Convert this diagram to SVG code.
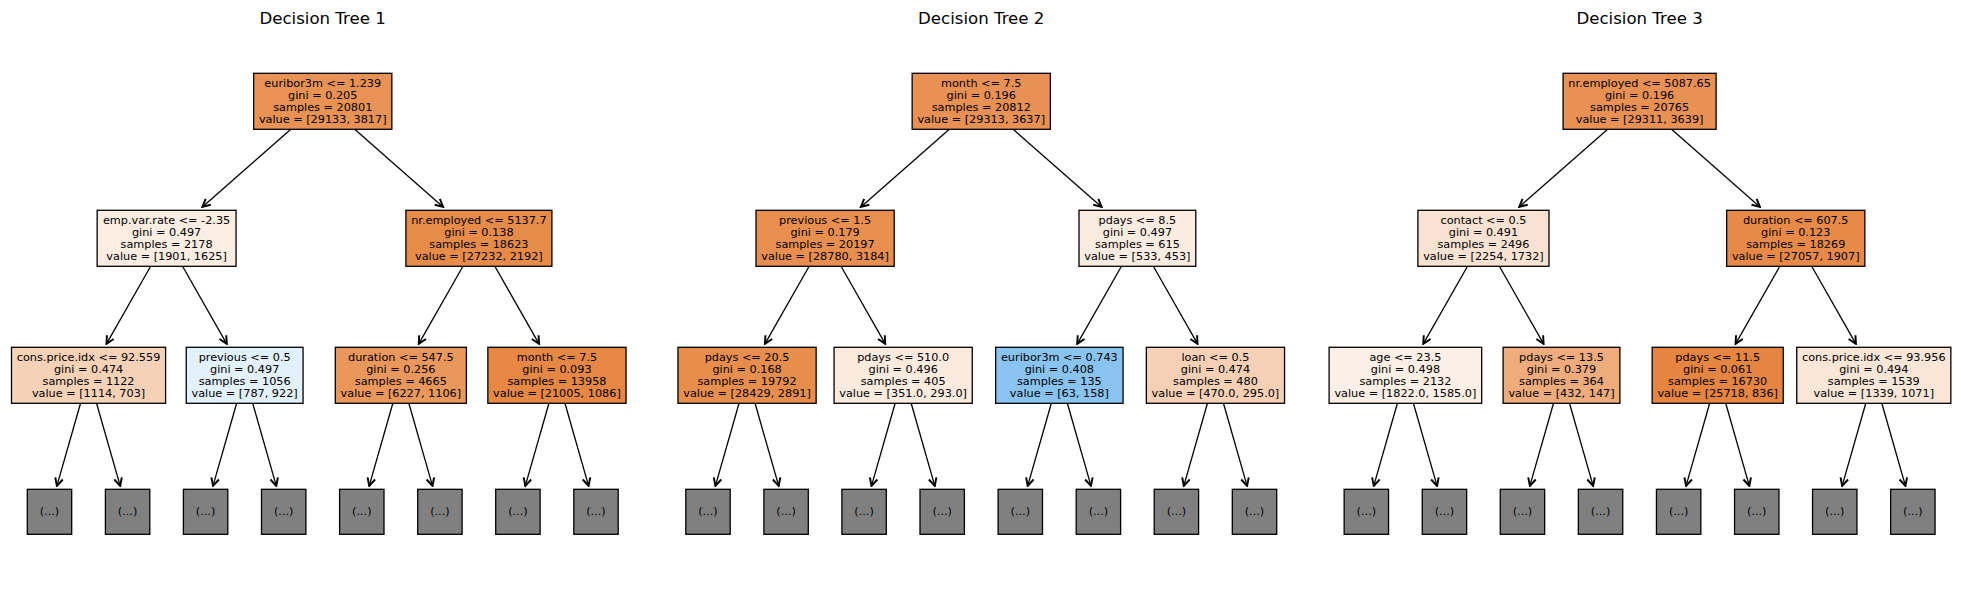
<svg xmlns="http://www.w3.org/2000/svg" width="1961" height="590" viewBox="0 0 1961 590">
<style>
.box{stroke:#000;stroke-width:1.3}
.leaf{fill:#808080;stroke:#000;stroke-width:1.3}
.lbl{font-family:"DejaVu Sans",Verdana,sans-serif;font-size:11.25px;text-anchor:middle;fill:#000}
.title{font-family:"DejaVu Sans",Verdana,sans-serif;font-size:16.6px;text-anchor:middle;fill:#000}
.edge{stroke:#000;stroke-width:1.3;fill:none;marker-end:url(#ah)}
</style>
<defs>
<marker id="ah" markerUnits="userSpaceOnUse" markerWidth="12" markerHeight="12" viewBox="-7 -4 8 8" refX="0" refY="0" orient="auto">
<path d="M-5.2,-2.6 L0,0 L-5.2,2.6" fill="none" stroke="#000" stroke-width="1.3"/>
</marker>
</defs>
<rect width="1961" height="590" fill="#fff"/>
<text class="title" x="322.6" y="23.8">Decision Tree 1</text>
<text class="title" x="981.2" y="23.8">Decision Tree 2</text>
<text class="title" x="1639.6" y="23.8">Decision Tree 3</text>
<g id="connectors">
<g id="edges-t1">
<path class="edge" d="M290.83,129.3 L202.39,206.9"/>
<path class="edge" d="M354.67,129.3 L443.11,206.9"/>
<path class="edge" d="M150.65,266.3 L106.44,343.9"/>
<path class="edge" d="M182.55,266.3 L226.76,343.9"/>
<path class="edge" d="M462.95,266.3 L418.74,343.9"/>
<path class="edge" d="M494.85,266.3 L539.06,343.9"/>
<path class="edge" d="M80.54,403.3 L56.91,485.9"/>
<path class="edge" d="M96.56,403.3 L120.19,485.9"/>
<path class="edge" d="M236.64,403.3 L213.01,485.9"/>
<path class="edge" d="M252.66,403.3 L276.29,485.9"/>
<path class="edge" d="M392.84,403.3 L369.21,485.9"/>
<path class="edge" d="M408.86,403.3 L432.49,485.9"/>
<path class="edge" d="M548.94,403.3 L525.31,485.9"/>
<path class="edge" d="M564.96,403.3 L588.59,485.9"/>
</g>
<g id="edges-t2" transform="translate(658.5,0)">
<path class="edge" d="M290.83,129.3 L202.39,206.9"/>
<path class="edge" d="M354.67,129.3 L443.11,206.9"/>
<path class="edge" d="M150.65,266.3 L106.44,343.9"/>
<path class="edge" d="M182.55,266.3 L226.76,343.9"/>
<path class="edge" d="M462.95,266.3 L418.74,343.9"/>
<path class="edge" d="M494.85,266.3 L539.06,343.9"/>
<path class="edge" d="M80.54,403.3 L56.91,485.9"/>
<path class="edge" d="M96.56,403.3 L120.19,485.9"/>
<path class="edge" d="M236.64,403.3 L213.01,485.9"/>
<path class="edge" d="M252.66,403.3 L276.29,485.9"/>
<path class="edge" d="M392.84,403.3 L369.21,485.9"/>
<path class="edge" d="M408.86,403.3 L432.49,485.9"/>
<path class="edge" d="M548.94,403.3 L525.31,485.9"/>
<path class="edge" d="M564.96,403.3 L588.59,485.9"/>
</g>
<g id="edges-t3" transform="translate(1316.85,0)">
<path class="edge" d="M290.83,129.3 L202.39,206.9"/>
<path class="edge" d="M354.67,129.3 L443.11,206.9"/>
<path class="edge" d="M150.65,266.3 L106.44,343.9"/>
<path class="edge" d="M182.55,266.3 L226.76,343.9"/>
<path class="edge" d="M462.95,266.3 L418.74,343.9"/>
<path class="edge" d="M494.85,266.3 L539.06,343.9"/>
<path class="edge" d="M80.54,403.3 L56.91,485.9"/>
<path class="edge" d="M96.56,403.3 L120.19,485.9"/>
<path class="edge" d="M236.64,403.3 L213.01,485.9"/>
<path class="edge" d="M252.66,403.3 L276.29,485.9"/>
<path class="edge" d="M392.84,403.3 L369.21,485.9"/>
<path class="edge" d="M408.86,403.3 L432.49,485.9"/>
<path class="edge" d="M548.94,403.3 L525.31,485.9"/>
<path class="edge" d="M564.96,403.3 L588.59,485.9"/>
</g>
</g>

<g id="tree1">
<g id="t1-root"><rect class="box" x="253.65" y="73.3" width="138.2" height="56" fill="#e89253"/><text class="lbl"><tspan x="322.75" y="86.7">euribor3m &lt;= 1.239</tspan><tspan x="322.75" y="98.7">gini = 0.205</tspan><tspan x="322.75" y="110.7">samples = 20801</tspan><tspan x="322.75" y="122.7">value = [29133, 3817]</tspan></text></g>
<g id="t1-n1"><rect class="box" x="97.15" y="210.3" width="138.9" height="56" fill="#fbede2"/><text class="lbl"><tspan x="166.6" y="223.7">emp.var.rate &lt;= -2.35</tspan><tspan x="166.6" y="235.7">gini = 0.497</tspan><tspan x="166.6" y="247.7">samples = 2178</tspan><tspan x="166.6" y="259.7">value = [1901, 1625]</tspan></text></g>
<g id="t1-n2"><rect class="box" x="405.9" y="210.3" width="146" height="56" fill="#e78b49"/><text class="lbl"><tspan x="478.9" y="223.7">nr.employed &lt;= 5137.7</tspan><tspan x="478.9" y="235.7">gini = 0.138</tspan><tspan x="478.9" y="247.7">samples = 18623</tspan><tspan x="478.9" y="259.7">value = [27232, 2192]</tspan></text></g>
<g id="t1-n3"><rect class="box" x="11.5" y="347.3" width="154.1" height="56" fill="#f5d1b6"/><text class="lbl"><tspan x="88.55" y="360.7">cons.price.idx &lt;= 92.559</tspan><tspan x="88.55" y="372.7">gini = 0.474</tspan><tspan x="88.55" y="384.7">samples = 1122</tspan><tspan x="88.55" y="396.7">value = [1114, 703]</tspan></text></g>
<g id="t1-n4"><rect class="box" x="186.25" y="347.3" width="116.8" height="56" fill="#e2f1fb"/><text class="lbl"><tspan x="244.65" y="360.7">previous &lt;= 0.5</tspan><tspan x="244.65" y="372.7">gini = 0.497</tspan><tspan x="244.65" y="384.7">samples = 1056</tspan><tspan x="244.65" y="396.7">value = [787, 922]</tspan></text></g>
<g id="t1-n5"><rect class="box" x="335.3" y="347.3" width="131.1" height="56" fill="#ea975c"/><text class="lbl"><tspan x="400.85" y="360.7">duration &lt;= 547.5</tspan><tspan x="400.85" y="372.7">gini = 0.256</tspan><tspan x="400.85" y="384.7">samples = 4665</tspan><tspan x="400.85" y="396.7">value = [6227, 1106]</tspan></text></g>
<g id="t1-n6"><rect class="box" x="487.85" y="347.3" width="138.2" height="56" fill="#e68843"/><text class="lbl"><tspan x="556.95" y="360.7">month &lt;= 7.5</tspan><tspan x="556.95" y="372.7">gini = 0.093</tspan><tspan x="556.95" y="384.7">samples = 13958</tspan><tspan x="556.95" y="396.7">value = [21005, 1086]</tspan></text></g>
<g id="t1-l1"><rect class="leaf" x="27.3" y="489.3" width="44.4" height="45"/><text class="lbl" x="49.5" y="515.2">(...)</text></g>
<g id="t1-l2"><rect class="leaf" x="105.4" y="489.3" width="44.4" height="45"/><text class="lbl" x="127.6" y="515.2">(...)</text></g>
<g id="t1-l3"><rect class="leaf" x="183.4" y="489.3" width="44.4" height="45"/><text class="lbl" x="205.6" y="515.2">(...)</text></g>
<g id="t1-l4"><rect class="leaf" x="261.5" y="489.3" width="44.4" height="45"/><text class="lbl" x="283.7" y="515.2">(...)</text></g>
<g id="t1-l5"><rect class="leaf" x="339.6" y="489.3" width="44.4" height="45"/><text class="lbl" x="361.8" y="515.2">(...)</text></g>
<g id="t1-l6"><rect class="leaf" x="417.7" y="489.3" width="44.4" height="45"/><text class="lbl" x="439.9" y="515.2">(...)</text></g>
<g id="t1-l7"><rect class="leaf" x="495.7" y="489.3" width="44.4" height="45"/><text class="lbl" x="517.9" y="515.2">(...)</text></g>
<g id="t1-l8"><rect class="leaf" x="573.8" y="489.3" width="44.4" height="45"/><text class="lbl" x="596.0" y="515.2">(...)</text></g>
</g>

<g id="tree2" transform="translate(658.5,0)">
<g id="t2-root"><rect class="box" x="253.65" y="73.3" width="138.2" height="56" fill="#e89152"/><text class="lbl"><tspan x="322.75" y="86.7">month &lt;= 7.5</tspan><tspan x="322.75" y="98.7">gini = 0.196</tspan><tspan x="322.75" y="110.7">samples = 20812</tspan><tspan x="322.75" y="122.7">value = [29313, 3637]</tspan></text></g>
<g id="t2-n1"><rect class="box" x="97.5" y="210.3" width="138.2" height="56" fill="#e88f4f"/><text class="lbl"><tspan x="166.6" y="223.7">previous &lt;= 1.5</tspan><tspan x="166.6" y="235.7">gini = 0.179</tspan><tspan x="166.6" y="247.7">samples = 20197</tspan><tspan x="166.6" y="259.7">value = [28780, 3184]</tspan></text></g>
<g id="t2-n2"><rect class="box" x="420.5" y="210.3" width="116.8" height="56" fill="#fbece1"/><text class="lbl"><tspan x="478.9" y="223.7">pdays &lt;= 8.5</tspan><tspan x="478.9" y="235.7">gini = 0.497</tspan><tspan x="478.9" y="247.7">samples = 615</tspan><tspan x="478.9" y="259.7">value = [533, 453]</tspan></text></g>
<g id="t2-n3"><rect class="box" x="19.45" y="347.3" width="138.2" height="56" fill="#e88e4d"/><text class="lbl"><tspan x="88.55" y="360.7">pdays &lt;= 20.5</tspan><tspan x="88.55" y="372.7">gini = 0.168</tspan><tspan x="88.55" y="384.7">samples = 19792</tspan><tspan x="88.55" y="396.7">value = [28429, 2891]</tspan></text></g>
<g id="t2-n4"><rect class="box" x="175.55" y="347.3" width="138.2" height="56" fill="#fbeade"/><text class="lbl"><tspan x="244.65" y="360.7">pdays &lt;= 510.0</tspan><tspan x="244.65" y="372.7">gini = 0.496</tspan><tspan x="244.65" y="384.7">samples = 405</tspan><tspan x="244.65" y="396.7">value = [351.0, 293.0]</tspan></text></g>
<g id="t2-n5"><rect class="box" x="337.15" y="347.3" width="127.4" height="56" fill="#88c4ef"/><text class="lbl"><tspan x="400.85" y="360.7">euribor3m &lt;= 0.743</tspan><tspan x="400.85" y="372.7">gini = 0.408</tspan><tspan x="400.85" y="384.7">samples = 135</tspan><tspan x="400.85" y="396.7">value = [63, 158]</tspan></text></g>
<g id="t2-n6"><rect class="box" x="487.85" y="347.3" width="138.2" height="56" fill="#f5d0b5"/><text class="lbl"><tspan x="556.95" y="360.7">loan &lt;= 0.5</tspan><tspan x="556.95" y="372.7">gini = 0.474</tspan><tspan x="556.95" y="384.7">samples = 480</tspan><tspan x="556.95" y="396.7">value = [470.0, 295.0]</tspan></text></g>
<g id="t2-l1"><rect class="leaf" x="27.3" y="489.3" width="44.4" height="45"/><text class="lbl" x="49.5" y="515.2">(...)</text></g>
<g id="t2-l2"><rect class="leaf" x="105.4" y="489.3" width="44.4" height="45"/><text class="lbl" x="127.6" y="515.2">(...)</text></g>
<g id="t2-l3"><rect class="leaf" x="183.4" y="489.3" width="44.4" height="45"/><text class="lbl" x="205.6" y="515.2">(...)</text></g>
<g id="t2-l4"><rect class="leaf" x="261.5" y="489.3" width="44.4" height="45"/><text class="lbl" x="283.7" y="515.2">(...)</text></g>
<g id="t2-l5"><rect class="leaf" x="339.6" y="489.3" width="44.4" height="45"/><text class="lbl" x="361.8" y="515.2">(...)</text></g>
<g id="t2-l6"><rect class="leaf" x="417.7" y="489.3" width="44.4" height="45"/><text class="lbl" x="439.9" y="515.2">(...)</text></g>
<g id="t2-l7"><rect class="leaf" x="495.7" y="489.3" width="44.4" height="45"/><text class="lbl" x="517.9" y="515.2">(...)</text></g>
<g id="t2-l8"><rect class="leaf" x="573.8" y="489.3" width="44.4" height="45"/><text class="lbl" x="596.0" y="515.2">(...)</text></g>
</g>

<g id="tree3" transform="translate(1316.85,0)">
<g id="t3-root"><rect class="box" x="246.25" y="73.3" width="153" height="56" fill="#e89152"/><text class="lbl"><tspan x="322.75" y="86.7">nr.employed &lt;= 5087.65</tspan><tspan x="322.75" y="98.7">gini = 0.196</tspan><tspan x="322.75" y="110.7">samples = 20765</tspan><tspan x="322.75" y="122.7">value = [29311, 3639]</tspan></text></g>
<g id="t3-n1"><rect class="box" x="101.05" y="210.3" width="131.1" height="56" fill="#f9e2d1"/><text class="lbl"><tspan x="166.6" y="223.7">contact &lt;= 0.5</tspan><tspan x="166.6" y="235.7">gini = 0.491</tspan><tspan x="166.6" y="247.7">samples = 2496</tspan><tspan x="166.6" y="259.7">value = [2254, 1732]</tspan></text></g>
<g id="t3-n2"><rect class="box" x="409.8" y="210.3" width="138.2" height="56" fill="#e78a47"/><text class="lbl"><tspan x="478.9" y="223.7">duration &lt;= 607.5</tspan><tspan x="478.9" y="235.7">gini = 0.123</tspan><tspan x="478.9" y="247.7">samples = 18269</tspan><tspan x="478.9" y="259.7">value = [27057, 1907]</tspan></text></g>
<g id="t3-n3"><rect class="box" x="12.25" y="347.3" width="152.6" height="56" fill="#fcefe5"/><text class="lbl"><tspan x="88.55" y="360.7">age &lt;= 23.5</tspan><tspan x="88.55" y="372.7">gini = 0.498</tspan><tspan x="88.55" y="384.7">samples = 2132</tspan><tspan x="88.55" y="396.7">value = [1822.0, 1585.0]</tspan></text></g>
<g id="t3-n4"><rect class="box" x="186.25" y="347.3" width="116.8" height="56" fill="#eeac7c"/><text class="lbl"><tspan x="244.65" y="360.7">pdays &lt;= 13.5</tspan><tspan x="244.65" y="372.7">gini = 0.379</tspan><tspan x="244.65" y="384.7">samples = 364</tspan><tspan x="244.65" y="396.7">value = [432, 147]</tspan></text></g>
<g id="t3-n5"><rect class="box" x="335.3" y="347.3" width="131.1" height="56" fill="#e6853f"/><text class="lbl"><tspan x="400.85" y="360.7">pdays &lt;= 11.5</tspan><tspan x="400.85" y="372.7">gini = 0.061</tspan><tspan x="400.85" y="384.7">samples = 16730</tspan><tspan x="400.85" y="396.7">value = [25718, 836]</tspan></text></g>
<g id="t3-n6"><rect class="box" x="479.9" y="347.3" width="154.1" height="56" fill="#fae6d7"/><text class="lbl"><tspan x="556.95" y="360.7">cons.price.idx &lt;= 93.956</tspan><tspan x="556.95" y="372.7">gini = 0.494</tspan><tspan x="556.95" y="384.7">samples = 1539</tspan><tspan x="556.95" y="396.7">value = [1339, 1071]</tspan></text></g>
<g id="t3-l1"><rect class="leaf" x="27.3" y="489.3" width="44.4" height="45"/><text class="lbl" x="49.5" y="515.2">(...)</text></g>
<g id="t3-l2"><rect class="leaf" x="105.4" y="489.3" width="44.4" height="45"/><text class="lbl" x="127.6" y="515.2">(...)</text></g>
<g id="t3-l3"><rect class="leaf" x="183.4" y="489.3" width="44.4" height="45"/><text class="lbl" x="205.6" y="515.2">(...)</text></g>
<g id="t3-l4"><rect class="leaf" x="261.5" y="489.3" width="44.4" height="45"/><text class="lbl" x="283.7" y="515.2">(...)</text></g>
<g id="t3-l5"><rect class="leaf" x="339.6" y="489.3" width="44.4" height="45"/><text class="lbl" x="361.8" y="515.2">(...)</text></g>
<g id="t3-l6"><rect class="leaf" x="417.7" y="489.3" width="44.4" height="45"/><text class="lbl" x="439.9" y="515.2">(...)</text></g>
<g id="t3-l7"><rect class="leaf" x="495.7" y="489.3" width="44.4" height="45"/><text class="lbl" x="517.9" y="515.2">(...)</text></g>
<g id="t3-l8"><rect class="leaf" x="573.8" y="489.3" width="44.4" height="45"/><text class="lbl" x="596.0" y="515.2">(...)</text></g>
</g>
</svg>
